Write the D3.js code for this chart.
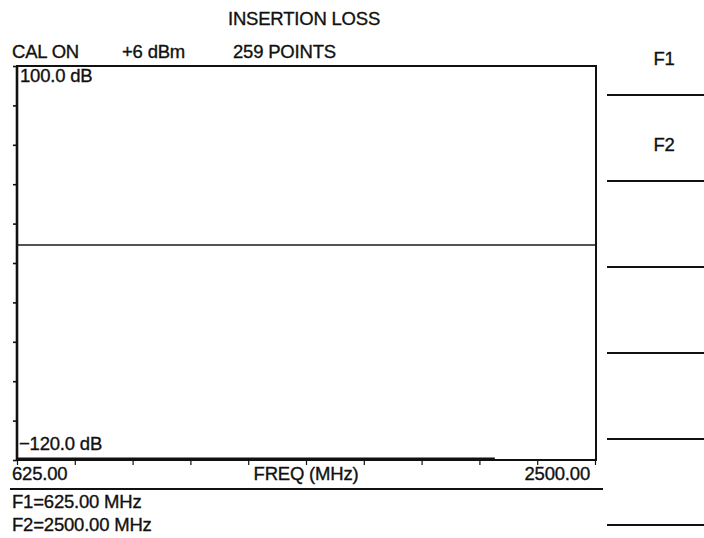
<!DOCTYPE html>
<html>
<head>
<meta charset="utf-8">
<script src="https://cdn.jsdelivr.net/npm/d3@7"></script>
<style>
  html, body { margin: 0; padding: 0; background: #fff; }
  svg { display: block; }
  text { font-family: "Liberation Sans", Arial, sans-serif; fill: #111; stroke: #111; stroke-width: 0.35px; letter-spacing: -0.2px; }
</style>
</head>
<body>
<svg id="chart" width="704" height="538"></svg>
<script>
// ---- data ----
const title = "INSERTION LOSS";
const headerLabels = ["CAL ON", "+6 dBm", "259 POINTS"];
const freqDomain = [625, 2500];           // MHz
const dbDomain = [-120, 100];             // dB
const traceFreq = [625, 2500];
const traceDb = [0, 0];
const lowerTraceFreq = [625, 2175];
const lowerTraceDb = [-120, -120];
const xTickValues = [625, 812.5, 1000, 1187.5, 1375, 1562.5, 1750, 1937.5, 2125, 2312.5, 2500];
const yTickValues = [-120, -98, -76, -54, -32, -10, 12, 34, 56, 78, 100];
const yTopLabel = "100.0 dB";
const yBottomLabel = "\u2212120.0 dB";
const xStartLabel = "625.00";
const xEndLabel = "2500.00";
const xAxisTitle = "FREQ (MHz)";
const footerLabels = ["F1=625.00 MHz", "F2=2500.00 MHz"];
const softkeyLabels = ["F1", "F2", "", "", "", ""];

// ---- layout ----
const svg = d3.select("#chart");
const L = 17, R = 595, T = 66, B = 460;
const x = d3.scaleLinear().domain(freqDomain).range([L, R]);
const y = d3.scaleLinear().domain(dbDomain).range([B, T]);
const FS = 18.5;

// title
svg.append("text").attr("x", 304).attr("y", 25).attr("text-anchor", "middle")
  .attr("font-size", FS).text(title);

// header row
const headerX = [12, 122, 233];
headerLabels.forEach((t, i) => {
  svg.append("text").attr("x", headerX[i]).attr("y", 58).attr("font-size", FS).text(t);
});

// frame
svg.append("rect").attr("x", L).attr("y", T).attr("width", R + 1 - L).attr("height", B - T)
  .attr("fill", "none").attr("stroke", "#111").attr("stroke-width", 2);
svg.append("line").attr("x1", L).attr("x2", L).attr("y1", T).attr("y2", B)
  .attr("stroke", "#111").attr("stroke-width", 2.6);

// axes ticks
const yAxis = d3.axisLeft(y).tickValues(yTickValues).tickSize(4).tickFormat("");
svg.append("g").attr("transform", `translate(${L},0)`).call(yAxis)
  .call(g => g.select(".domain").remove())
  .call(g => g.selectAll(".tick line").attr("stroke", "#111").attr("stroke-width", 1.6));

const xAxis = d3.axisBottom(x).tickValues(xTickValues).tickSize(5).tickFormat("");
svg.append("g").attr("transform", `translate(0,${B})`).call(xAxis)
  .call(g => g.select(".domain").remove())
  .call(g => g.selectAll(".tick line").attr("stroke", "#111").attr("stroke-width", 1.2));

// traces
const line = d3.line().x(d => x(d[0])).y(d => y(d[1]));
svg.append("path").datum(traceFreq.map((f, i) => [f, traceDb[i]]))
  .attr("d", line).attr("fill", "none").attr("stroke", "#1a1a1a").attr("stroke-width", 1.5);
svg.append("path").datum(lowerTraceFreq.map((f, i) => [f, lowerTraceDb[i]]))
  .attr("d", line).attr("fill", "none").attr("stroke", "#111").attr("stroke-width", 3.2)
  .attr("transform", "translate(0,-1)");

// in-plot labels
svg.append("text").attr("x", 20).attr("y", 82).attr("font-size", FS).text(yTopLabel);
svg.append("text").attr("x", 19).attr("y", 450).attr("font-size", FS).text(yBottomLabel);

// x labels
svg.append("text").attr("x", 12).attr("y", 480).attr("font-size", FS).text(xStartLabel);
svg.append("text").attr("x", 306).attr("y", 480).attr("text-anchor", "middle").attr("font-size", FS).text(xAxisTitle);
svg.append("text").attr("x", 590).attr("y", 480).attr("text-anchor", "end").attr("font-size", FS).text(xEndLabel);

// separator
svg.append("line").attr("x1", 10).attr("x2", 603).attr("y1", 489).attr("y2", 489)
  .attr("stroke", "#111").attr("stroke-width", 2);

// footer
footerLabels.forEach((t, i) => {
  svg.append("text").attr("x", 12).attr("y", 508 + i * 23).attr("font-size", FS).text(t);
});

// softkeys
const keyY = d3.scaleLinear().domain([0, 1]).range([95, 181]);
softkeyLabels.forEach((t, i) => {
  const ly = keyY(i);
  svg.append("line").attr("x1", 607).attr("x2", 704).attr("y1", ly).attr("y2", ly)
    .attr("stroke", "#111").attr("stroke-width", 2);
  if (t) svg.append("text").attr("x", 664).attr("y", ly - 30).attr("text-anchor", "middle")
    .attr("font-size", FS).text(t);
});
</script>
</body>
</html>
